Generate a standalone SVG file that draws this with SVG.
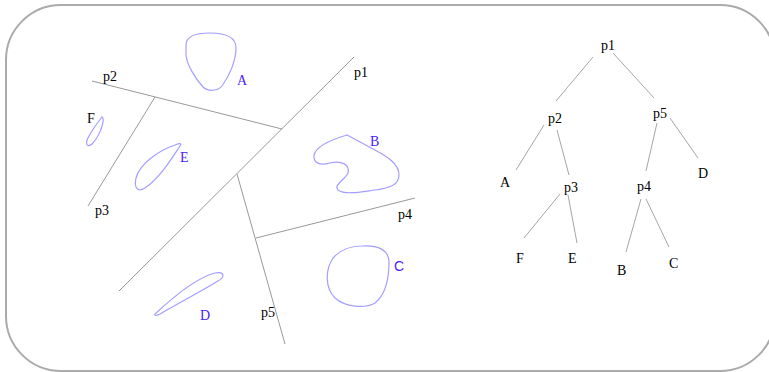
<svg xmlns="http://www.w3.org/2000/svg" width="769" height="372" viewBox="0 0 769 372">
  <style>
    .frame { fill: #ffffff; stroke: #ababab; stroke-width: 2; }
    .cut { stroke: #999999; stroke-width: 1; fill: none; }
    .edge { stroke: #a6a6a6; stroke-width: 1; fill: none; }
    .blob { fill: none; stroke: #a39eff; stroke-width: 1.2; }
    .lbl { font-family: "Liberation Serif", "Times New Roman", serif; font-size: 14px; fill: #000000; }
    .obj { font-family: "Liberation Serif", "Times New Roman", serif; font-size: 14px; fill: #4a22ff; }
    .objs { font-family: "Liberation Sans", Arial, sans-serif; font-size: 14px; fill: #4a22ff; }
  </style>

  <rect class="frame" x="6" y="5" width="769" height="366" rx="55" ry="55"/>

  <!-- partition of the plane: splitting lines -->
  <g id="partition">
    <line id="cut-p1" class="cut" x1="119" y1="291" x2="354" y2="57"/>
    <line id="cut-p2" class="cut" x1="92" y1="81" x2="282" y2="129"/>
    <line id="cut-p3" class="cut" x1="155" y1="97" x2="88" y2="206"/>
    <line id="cut-p5" class="cut" x1="237" y1="174" x2="285" y2="344"/>
    <line id="cut-p4" class="cut" x1="256" y1="238" x2="415" y2="198"/>
    <text class="lbl" x="354" y="77">p1</text>
    <text class="lbl" x="103" y="81">p2</text>
    <text class="lbl" x="95" y="215">p3</text>
    <text class="lbl" x="398" y="219">p4</text>
    <text class="lbl" x="261" y="317">p5</text>
  </g>

  <!-- objects -->
  <g id="obj-A">
    <path class="blob" d="M186,45 C186,36 195,33 210,33 C225,33 236,37 236,48 C236,60 230,75 222,86 C218,91 208,92 203,87 C195,78 187,65 186,55 Z"/>
    <text class="obj" x="237" y="85">A</text>
  </g>
  <g id="obj-B">
    <path class="blob" d="M347,135 L375,150 C390,158 399,165 399,175 C399,185 390,188 375,190 C360,192 345,195 338,190 C333,185 345,180 348,173 C350,165 342,160 330,163 C320,166 313,163 314,155 C316,147 330,140 347,135 Z"/>
    <text class="obj" x="370" y="146">B</text>
  </g>
  <g id="obj-C">
    <path class="blob" d="M362,246 C378,245 389,250 389,262 C389,280 385,295 375,303 C365,309 345,307 335,298 C325,288 325,270 333,258 C340,250 350,246 362,246 Z"/>
    <text class="objs" x="394" y="271">C</text>
  </g>
  <g id="obj-D">
    <path class="blob" d="M155,314 C170,300 195,278 215,273 C225,271 225,277 218,281 C200,292 175,305 160,314 C156,316 154,316 155,314 Z"/>
    <text class="obj" x="200" y="320">D</text>
  </g>
  <g id="obj-E">
    <path class="blob" d="M180,146 C172,158 160,178 145,188 C137,193 134,187 136,178 C140,163 160,150 175,145 C180,143 182,143 180,146 Z"/>
    <text class="obj" x="180" y="162">E</text>
  </g>
  <g id="obj-F">
    <path class="blob" d="M103,118 C104,125 98,138 92,144 C87,148 85,144 88,138 C92,130 98,122 102,117 Z"/>
    <text class="lbl" x="87" y="123">F</text>
  </g>

  <!-- tree connectors -->
  <g id="tree-edges">
    <line class="edge" x1="593" y1="57" x2="556" y2="101"/>
    <line class="edge" x1="613" y1="53" x2="654" y2="98"/>
    <line class="edge" x1="544" y1="125" x2="516" y2="170"/>
    <line class="edge" x1="557" y1="130" x2="569" y2="175"/>
    <line class="edge" x1="657" y1="123" x2="646" y2="171"/>
    <line class="edge" x1="670" y1="118" x2="698" y2="158"/>
    <line class="edge" x1="560" y1="194" x2="524" y2="238"/>
    <line class="edge" x1="568" y1="195" x2="577" y2="243"/>
    <line class="edge" x1="641" y1="199" x2="626" y2="252"/>
    <line class="edge" x1="646" y1="199" x2="669" y2="247"/>
  </g>

  <!-- tree nodes -->
  <g id="node-p1"><text class="lbl" x="601" y="50">p1</text></g>
  <g id="node-p2"><text class="lbl" x="548" y="123">p2</text></g>
  <g id="node-p5"><text class="lbl" x="653" y="118">p5</text></g>
  <g id="node-A"><text class="lbl" x="500" y="187">A</text></g>
  <g id="node-p3"><text class="lbl" x="564" y="192">p3</text></g>
  <g id="node-p4"><text class="lbl" x="637" y="191">p4</text></g>
  <g id="node-D"><text class="lbl" x="698" y="178">D</text></g>
  <g id="node-F"><text class="lbl" x="516" y="263">F</text></g>
  <g id="node-E"><text class="lbl" x="568" y="263">E</text></g>
  <g id="node-B"><text class="lbl" x="617" y="275">B</text></g>
  <g id="node-C"><text class="lbl" x="669" y="268">C</text></g>
</svg>
